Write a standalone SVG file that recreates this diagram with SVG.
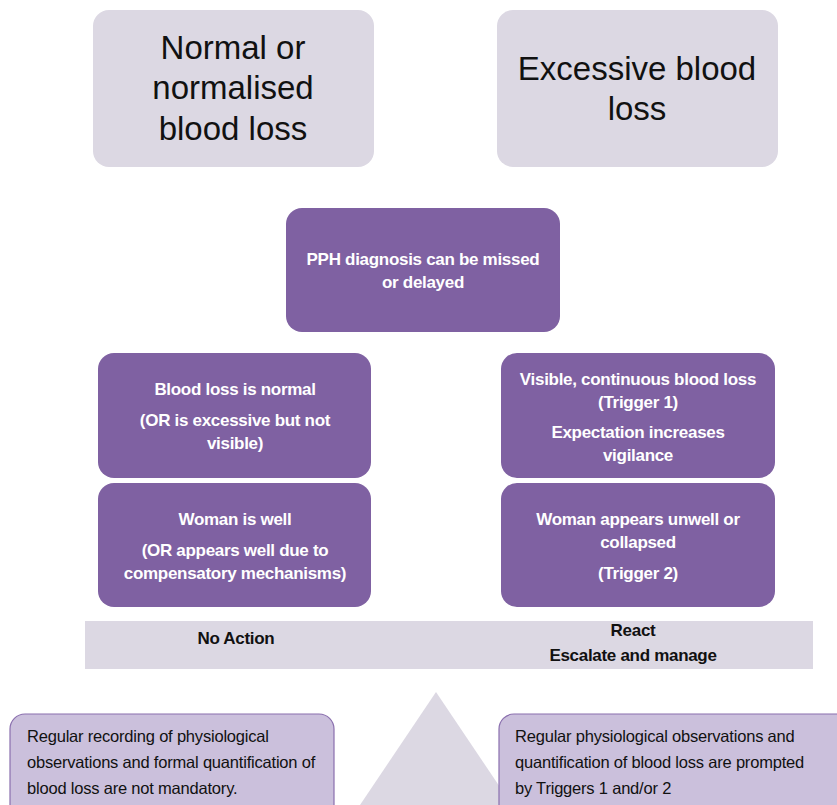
<svg xmlns="http://www.w3.org/2000/svg" width="837" height="805" viewBox="0 0 837 805">
<style>
.top{fill:#dcd8e3}
.pur{fill:#7f61a2}
.low{fill:#cbc0dc;stroke:#8a6fae;stroke-width:1.2}
.tt{font-family:"Liberation Sans",Arial,sans-serif;font-size:33px;fill:#111;text-anchor:middle}
.wt{font-family:"Liberation Sans",Arial,sans-serif;font-size:17px;font-weight:bold;fill:#fff;text-anchor:middle;letter-spacing:-0.3px}
.bt{font-family:"Liberation Sans",Arial,sans-serif;font-size:17px;font-weight:bold;fill:#111;text-anchor:middle;letter-spacing:-0.3px}
.lt{font-family:"Liberation Sans",Arial,sans-serif;font-size:16.5px;fill:#111;letter-spacing:-0.2px}
</style>
<rect width="837" height="805" fill="#fff"/>
<g id="normal">
<rect class="top" x="93" y="10" width="281" height="157" rx="16"/>
<text class="tt" x="233" y="59">Normal or</text>
<text class="tt" x="233" y="99">normalised</text>
<text class="tt" x="233" y="140">blood loss</text>
</g>
<g id="excessive">
<rect class="top" x="497" y="10" width="281" height="157" rx="16"/>
<text class="tt" x="637" y="80">Excessive blood</text>
<text class="tt" x="637" y="120">loss</text>
</g>
<g id="pph">
<rect class="pur" x="286" y="208" width="274" height="124" rx="16"/>
<text class="wt" x="423" y="265">PPH diagnosis can be missed</text>
<text class="wt" x="423" y="288">or delayed</text>
</g>
<g id="bloodnormal">
<rect class="pur" x="98" y="353" width="273" height="125" rx="16"/>
<text class="wt" x="235" y="395">Blood loss is normal</text>
<text class="wt" x="235" y="426">(OR is excessive but not</text>
<text class="wt" x="235" y="449">visible)</text>
</g>
<g id="womanwell">
<rect class="pur" x="98" y="483" width="273" height="124" rx="16"/>
<text class="wt" x="235" y="525">Woman is well</text>
<text class="wt" x="235" y="556">(OR appears well due to</text>
<text class="wt" x="235" y="579">compensatory mechanisms)</text>
</g>
<g id="visible">
<rect class="pur" x="501" y="353" width="274" height="125" rx="16"/>
<text class="wt" x="638" y="385">Visible, continuous blood loss</text>
<text class="wt" x="638" y="408">(Trigger 1)</text>
<text class="wt" x="638" y="438">Expectation increases</text>
<text class="wt" x="638" y="461">vigilance</text>
</g>
<g id="unwell">
<rect class="pur" x="501" y="483" width="274" height="124" rx="16"/>
<text class="wt" x="638" y="525">Woman appears unwell or</text>
<text class="wt" x="638" y="548">collapsed</text>
<text class="wt" x="638" y="579">(Trigger 2)</text>
</g>
<g id="band">
<rect x="85" y="621" width="728" height="48" fill="#dcd8e3"/>
<text class="bt" x="236" y="644">No Action</text>
<text class="bt" x="633" y="636">React</text>
<text class="bt" x="633" y="661">Escalate and manage</text>
</g>
<g id="fulcrum">
<polygon points="436,692 512,805 360,805" fill="#dcd8e3"/>
</g>
<g id="leftnote">
<rect class="low" x="10" y="714" width="324" height="110" rx="15"/>
<text class="lt" x="27" y="742">Regular recording of physiological</text>
<text class="lt" x="27" y="768">observations and formal quantification of</text>
<text class="lt" x="27" y="794">blood loss are not mandatory.</text>
</g>
<g id="rightnote">
<rect class="low" x="499" y="714" width="360" height="110" rx="15"/>
<text class="lt" x="515" y="742">Regular physiological observations and</text>
<text class="lt" x="515" y="768">quantification of blood loss are prompted</text>
<text class="lt" x="515" y="794">by Triggers 1 and/or 2</text>
</g>
<g id="connectors"/>
</svg>
